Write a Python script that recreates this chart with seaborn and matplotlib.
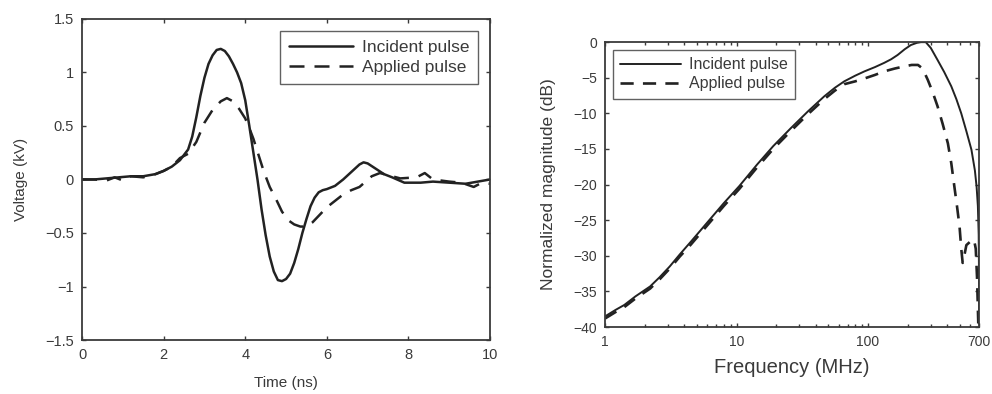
import numpy as np
import pandas as pd
import matplotlib
matplotlib.use("Agg")
import matplotlib.pyplot as plt
import matplotlib.ticker as mticker
import seaborn as sns

# Left panel: time-domain pulses
t_incident = [0, 0.3, 0.6, 0.9, 1.2, 1.5, 1.8, 2.0, 2.2, 2.4, 2.6, 2.7, 2.8, 2.9, 3.0, 3.1,
              3.2, 3.3, 3.4, 3.5, 3.6, 3.7, 3.8, 3.9, 4.0, 4.1, 4.2, 4.3, 4.4, 4.5,
              4.6, 4.7, 4.8, 4.9, 5.0, 5.1, 5.2, 5.3, 5.4, 5.5, 5.6, 5.7, 5.8, 5.9,
              6.0, 6.2, 6.4, 6.6, 6.8, 6.9, 7.0, 7.2, 7.4, 7.6, 7.9, 8.3, 8.6, 9.0,
              9.4, 9.7, 10.0]
v_incident = [0, 0.0, 0.01, 0.02, 0.03, 0.03, 0.05, 0.08, 0.12, 0.18, 0.28, 0.4, 0.58, 0.78, 0.95, 1.08,
              1.16, 1.21, 1.22, 1.2, 1.15, 1.08, 1.0, 0.9, 0.74, 0.5, 0.25, 0.0, -0.28, -0.52,
              -0.72, -0.86, -0.94, -0.95, -0.93, -0.88, -0.78, -0.65, -0.5, -0.37, -0.25, -0.17, -0.12, -0.1,
              -0.09, -0.06, 0.0, 0.07, 0.14, 0.16, 0.15, 0.1, 0.05, 0.02, -0.03, -0.03, -0.02, -0.03,
              -0.04, -0.02, 0.0]

t_applied = [0, 0.3, 0.6, 0.8, 1.0, 1.2, 1.5, 1.8, 2.0, 2.2, 2.4, 2.6, 2.8, 3.0, 3.2, 3.4,
             3.55, 3.7, 3.85, 4.0, 4.1, 4.2, 4.3, 4.45, 4.6, 4.75, 4.9, 5.05, 5.2, 5.35,
             5.5, 5.65, 5.8, 6.0, 6.2, 6.4, 6.6, 6.8, 6.95, 7.1, 7.3, 7.5, 7.8, 8.2,
             8.4, 8.6, 9.0, 9.3, 9.6, 9.8, 10.0]
v_applied = [0, 0.0, -0.01, 0.02, -0.01, 0.03, 0.02, 0.05, 0.08, 0.12, 0.2, 0.24, 0.35, 0.53, 0.65, 0.73,
             0.76, 0.73, 0.66, 0.57, 0.48, 0.38, 0.26, 0.08, -0.07, -0.18, -0.3, -0.38, -0.42, -0.44,
             -0.44, -0.4, -0.34, -0.26, -0.2, -0.14, -0.1, -0.07, -0.02, 0.03, 0.06, 0.04, 0.01, 0.02,
             0.06, 0.0, -0.02, -0.03, -0.07, -0.03, -0.04]

# Right panel: normalized spectra
f_incident = [1, 1.2, 1.4, 1.7, 2.2, 2.6, 3.1, 3.7, 4.5, 6, 8, 10.5, 14.3, 19, 25.8, 35,
              46.5, 56, 66, 80, 94, 113, 133, 150, 168, 190, 212, 235, 253, 275,
              300, 338, 380, 430, 470, 512, 560, 612, 650, 670, 685, 695, 699, 700]
db_incident = [-38.5, -37.6, -36.9, -35.7, -34.3, -33.0, -31.5, -29.8, -28.0, -25.3, -22.6, -20.2, -17.2, -14.6, -12.1, -9.7,
               -7.6, -6.4, -5.5, -4.7, -4.1, -3.5, -2.9, -2.4, -1.8, -1.0, -0.4, -0.1, 0.0, 0.0,
               -0.8, -2.5, -4.2, -6.2, -8.0, -10.0, -12.5, -15.1, -18.0, -20.3, -23.0, -27.0, -33.0, -39.5]

f_applied = [1, 1.2, 1.4, 1.7, 2.2, 2.6, 3.1, 3.7, 4.5, 6, 8, 10.5, 14.3, 19, 25.8, 35,
             46.5, 56, 66, 80, 94, 113, 133, 160, 189, 215, 240, 260, 285, 310,
             338, 370, 405, 430, 454, 475, 497, 512, 525, 540, 560, 600, 640, 660, 675, 690]
db_applied = [-38.8, -37.9, -37.2, -36.0, -34.6, -33.3, -31.8, -30.1, -28.4, -25.7, -23.0, -20.6, -17.6, -15.0, -12.5, -10.1,
              -8.0, -6.8, -5.9, -5.5, -5.1, -4.6, -4.1, -3.7, -3.4, -3.2, -3.2, -3.7, -5.3, -7.0,
              -9.0, -11.5, -14.2, -17.0, -20.3, -23.0, -25.9, -29.0, -31.0, -30.0, -28.5, -28.0, -27.7, -29.0, -33.0, -39.5]

freq_ticks = [1, 10, 100, 700]
legend_labels = ["Incident pulse", "Applied pulse"]

sns.set_style("ticks")
plt.rcParams["font.family"] = ["Liberation Sans", "DejaVu Sans"]
ink = "#3a3a3a"
plt.rcParams.update({
    "text.color": ink, "axes.labelcolor": ink, "axes.edgecolor": ink,
    "xtick.color": ink, "ytick.color": ink,
    "xtick.direction": "in", "ytick.direction": "in",
    "xtick.top": True, "ytick.right": True,
})

fig = plt.figure(figsize=(9.92, 3.94), dpi=100)
ax1 = fig.add_axes([0.0827, 0.137, 0.4113, 0.815])
ax2 = fig.add_axes([0.610, 0.170, 0.377, 0.723])

df_inc = pd.DataFrame({"t": t_incident, "v": v_incident})
df_app = pd.DataFrame({"t": t_applied, "v": v_applied})
sns.lineplot(data=df_inc, x="t", y="v", ax=ax1, color="#222222", lw=1.8, label=legend_labels[0])
sns.lineplot(data=df_app, x="t", y="v", ax=ax1, color="#222222", lw=1.8,
             linestyle=(0, (6, 4)), label=legend_labels[1])
ax1.set_xlim(0, 10)
ax1.set_ylim(-1.5, 1.5)
ax1.set_xticks(np.arange(0, 11, 2))
ax1.set_yticks(np.arange(-1.5, 1.51, 0.5))
ax1.yaxis.set_major_formatter(mticker.FuncFormatter(lambda v, p: f"{v:g}".replace("-", "\u2212")))
ax1.set_xlabel("Time (ns)", fontsize=11, labelpad=10)
ax1.set_ylabel("Voltage (kV)", fontsize=11, labelpad=12)
ax1.tick_params(labelsize=10.5, length=3, width=1, pad=6)
leg1 = ax1.legend(loc="upper right", fontsize=12.5, frameon=True, fancybox=False, handlelength=3.7,
                  borderaxespad=0.7, labelspacing=0.3, borderpad=0.5, handletextpad=0.5)
leg1.get_frame().set_edgecolor(ink)
leg1.get_frame().set_linewidth(1.0)

sdf_inc = pd.DataFrame({"f": f_incident, "db": db_incident})
sdf_app = pd.DataFrame({"f": f_applied, "db": db_applied})
sns.lineplot(data=sdf_inc, x="f", y="db", ax=ax2, color="#222222", lw=1.4, label=legend_labels[0])
sns.lineplot(data=sdf_app, x="f", y="db", ax=ax2, color="#222222", lw=1.9,
             linestyle=(0, (5, 3.5)), label=legend_labels[1])
ax2.set_xscale("log")
ax2.set_xlim(1, 700)
ax2.set_ylim(-40, 0)
ax2.set_xticks(freq_ticks)
ax2.set_xticklabels([str(v) for v in freq_ticks])
ax2.xaxis.set_minor_locator(mticker.LogLocator(base=10, subs=np.arange(2, 10), numticks=20))
ax2.xaxis.set_minor_formatter(mticker.NullFormatter())
ax2.set_yticks(np.arange(-40, 1, 5))
ax2.set_xlabel("Frequency (MHz)", fontsize=14.5, labelpad=6)
ax2.set_ylabel("Normalized magnitude (dB)", fontsize=12.5, labelpad=12)
ax2.tick_params(labelsize=10, length=3, width=1, pad=6)
ax2.tick_params(which="minor", length=2.5, width=1)
leg2 = ax2.legend(loc="upper left", fontsize=11.5, frameon=True, fancybox=False, handlelength=3.8,
                  borderaxespad=0.5, labelspacing=0.25, borderpad=0.45, handletextpad=0.5)
leg2.get_frame().set_edgecolor(ink)
leg2.get_frame().set_linewidth(1.0)

for ax in (ax1, ax2):
    for s in ax.spines.values():
        s.set_linewidth(1.3)

fig.savefig("out.png", dpi=100)
